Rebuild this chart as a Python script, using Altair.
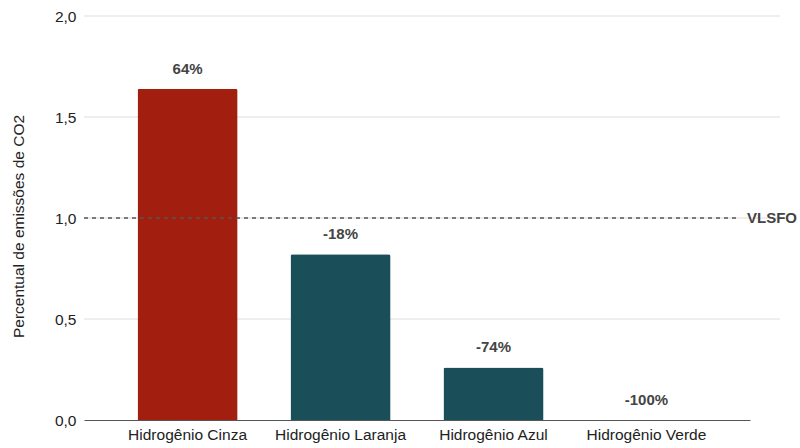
import altair as alt
import pandas as pd

categorias = ["Hidrogênio Cinza", "Hidrogênio Laranja", "Hidrogênio Azul", "Hidrogênio Verde"]
emissoes = [1.64, 0.82, 0.26, 0.0]
rotulos = ["64%", "-18%", "-74%", "-100%"]
cores = ["#A21E0E", "#1A4E58", "#1A4E58", "#1A4E58"]

grade = [0.0, 0.5, 1.0, 1.5, 2.0]
referencia = 1.0
referencia_nome = "VLSFO"

df = pd.DataFrame({"cat": categorias, "valor": emissoes, "rotulo": rotulos, "cor": cores})
df_grade = pd.DataFrame({"y": grade[1:]})
df_ref = pd.DataFrame({"y": [referencia], "nome": [referencia_nome]})

FONT = "Liberation Sans"
W, H = 666, 404
TAM = 15.5

x_enc = alt.X("cat:N", sort=categorias, title=None,
              scale=alt.Scale(paddingInner=0.346, paddingOuter=0.35),
              axis=alt.Axis(labelAngle=0, labelFontSize=TAM, labelFont=FONT, labelColor="#222",
                            labelPadding=7, ticks=False, domainColor="#555", domainWidth=1))
y_scale = alt.Scale(domain=[0, 2.0], nice=False)

# light horizontal grid, running a little past the plot on the right
linhas = alt.Chart(df_grade).mark_rule(color="#dddddd", strokeWidth=1).encode(
    y=alt.Y("y:Q", scale=y_scale),
    x=alt.value(0), x2=alt.value(W + 30),
)

barras = alt.Chart(df).mark_bar(cornerRadiusTopLeft=2, cornerRadiusTopRight=2).encode(
    x=x_enc,
    y=alt.Y("valor:Q", scale=y_scale, title="Percentual de emissões de CO2",
            axis=alt.Axis(values=grade, format=".1f", grid=False, domain=False, ticks=False,
                          labelFontSize=TAM, labelFont=FONT, labelColor="#222", labelPadding=8,
                          titleFontSize=TAM, titleFont=FONT, titleFontWeight="normal",
                          titleColor="#222", titleX=-66, titleY=H / 2 + 8, titleAngle=-90,
                          titleAlign="center", titleBaseline="middle")),
    color=alt.Color("cor:N", scale=None),
)

textos = alt.Chart(df).mark_text(baseline="bottom", dy=-12, fontSize=15, fontWeight="bold",
                                 font=FONT, color="#444").encode(
    x=alt.X("cat:N", sort=categorias),
    y=alt.Y("valor:Q", scale=y_scale),
    text="rotulo:N",
)

# reference fuel level
ref_linha = alt.Chart(df_ref).mark_rule(color="#555", strokeDash=[4, 4], strokeWidth=1.5).encode(
    y=alt.Y("y:Q", scale=y_scale),
    x=alt.value(0), x2=alt.value(W - 10),
)

ref_texto = alt.Chart(df_ref).mark_text(align="left", baseline="middle", fontSize=15,
                                        fontWeight="bold", font=FONT, color="#444").encode(
    y=alt.Y("y:Q", scale=y_scale),
    x=alt.value(W - 3),
    text="nome:N",
)

chart = alt.layer(linhas, barras, textos, ref_linha, ref_texto).properties(
    width=W, height=H,
    autosize=alt.AutoSizeParams(type="none"),
    padding={"left": 84, "top": 16, "right": 50, "bottom": 28},
).configure_view(stroke=None)

chart.save("out.html", embed_options={
    "renderer": "svg", "actions": False,
    "formatLocale": {"decimal": ",", "thousands": ".", "grouping": [3], "currency": ["R$", ""]},
})
